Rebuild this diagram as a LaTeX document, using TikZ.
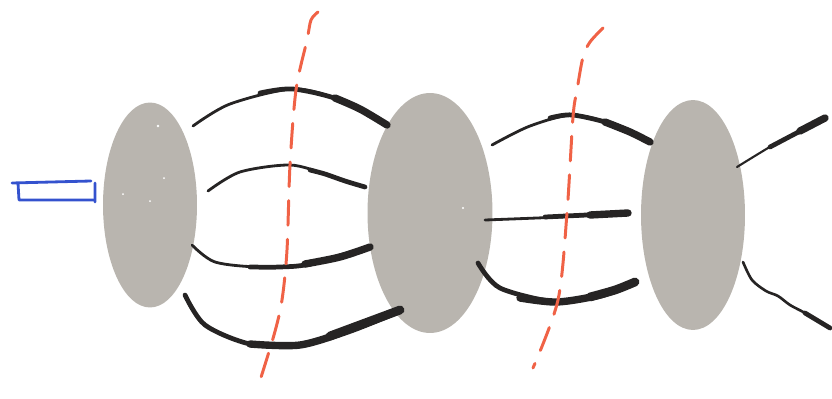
\documentclass[tikz,border=0pt]{standalone}
\usepackage{tikz}
\usetikzlibrary{shapes.geometric}

\definecolor{lensgrey}{RGB}{185,181,175}
\definecolor{inkblack}{RGB}{38,36,36}
\definecolor{cutred}{RGB}{240,98,70}
\definecolor{penblue}{RGB}{52,82,206}

\begin{document}
\begin{tikzpicture}[x=0.02cm, y=-0.02cm, line cap=round, line join=round,
  lens/.style={ellipse, fill=lensgrey, inner sep=0pt, outer sep=0pt},
  ray/.style={draw=inkblack, line width=1.6pt},
  midray/.style={draw=inkblack, line width=2.7pt},
  fatray/.style={draw=inkblack, line width=4.2pt},
  cut/.style={draw=cutred, line width=1.7pt, dash pattern=on 14pt off 8pt}]
\useasboundingbox (0,0) rectangle (832,399);

% Lenses
\node[lens, minimum width=1.88cm, minimum height=4.1cm] (lensA) at (150,205) {};
\node[lens, minimum width=2.5cm, minimum height=4.8cm] (lensB) at (430,213) {};
\node[lens, minimum width=2.08cm, minimum height=4.6cm] (lensC) at (693,215) {};

% Specks
\fill[white] (158,126) circle (1.3) (164,178) circle (1) (123,194) circle (1)
  (150,201) circle (1) (463,208) circle (1.2);

% Source (blue box)
\draw[penblue, line width=1.6pt] (12,183) -- (91,181) (18,183) -- (19,200) -- (93,200)
  (95,183) -- (95,202);

% Rays between first and second lens
\draw[ray] plot[smooth] coordinates {(193,126) (230,104) (293,89) (340,100) (387,125)};
\draw[midray] plot[smooth] coordinates {(260,93) (293,89) (340,100) (387,125)};
\draw[fatray] plot[smooth] coordinates {(335,98) (360,109) (387,125)};
\draw[ray] plot[smooth] coordinates {(208,191) (240,172) (290,165) (325,174) (345,181) (365,187)};
\draw[midray] plot[smooth] coordinates {(310,170) (325,174) (345,181) (365,187)};
\draw[ray] plot[smooth] coordinates {(192,245) (215,262) (260,267) (310,264) (370,247)};
\draw[midray] plot[smooth] coordinates {(250,267) (280,267) (310,264) (370,247)};
\draw[fatray] plot[smooth] coordinates {(305,264) (340,257) (370,247)};
\draw[midray] plot[smooth] coordinates {(185,295) (205,325) (250,344) (300,345) (350,330) (400,310)};
\draw[fatray] plot[smooth] coordinates {(250,344) (300,345) (350,330) (400,310)};
\draw[fatray, line width=5pt] plot[smooth] coordinates {(330,336) (365,323) (400,310)};

% Rays between second and third lens
\draw[ray] plot[smooth] coordinates {(492,145) (530,126) (573,115) (615,125) (650,142)};
\draw[midray] plot[smooth] coordinates {(550,118) (573,115) (615,125) (650,142)};
\draw[fatray] plot[smooth] coordinates {(605,122) (630,132) (650,142)};
\draw[ray] plot[smooth] coordinates {(485,220) (560,217) (628,213)};
\draw[midray] (545,217) -- (628,213);
\draw[fatray] (590,215) -- (628,213);
\draw[midray] plot[smooth] coordinates {(478,263) (500,288) (557,302) (600,295) (635,282)};
\draw[fatray] plot[smooth] coordinates {(520,298) (557,302) (600,295) (635,282)};
\draw[fatray, line width=5pt] plot[smooth] coordinates {(590,297) (615,290) (635,282)};

% Rays leaving third lens
\draw[ray, line width=1.2pt] plot[smooth] coordinates {(737,167) (780,141) (825,118)};
\draw[midray] (770,147) -- (825,118);
\draw[fatray] (800,131) -- (825,118);
\draw[ray, line width=1.5pt] plot[smooth] coordinates {(743,262) (752,280) (766,291) (778,296) (790,305) (805,313) (830,328)};
\draw[midray] (805,313) -- (830,328);

% Cutting planes
\draw[cut] plot[smooth] coordinates {(318,12) (311,20) (307,40) (296,90) (290,165) (287,250) (282,300) (274,335) (257,390)};
\draw[cut] plot[smooth] coordinates {(603,28) (590,42) (583,57) (577,90) (573,117) (567,213) (558,300) (533,368)};
\end{tikzpicture}
\end{document}
